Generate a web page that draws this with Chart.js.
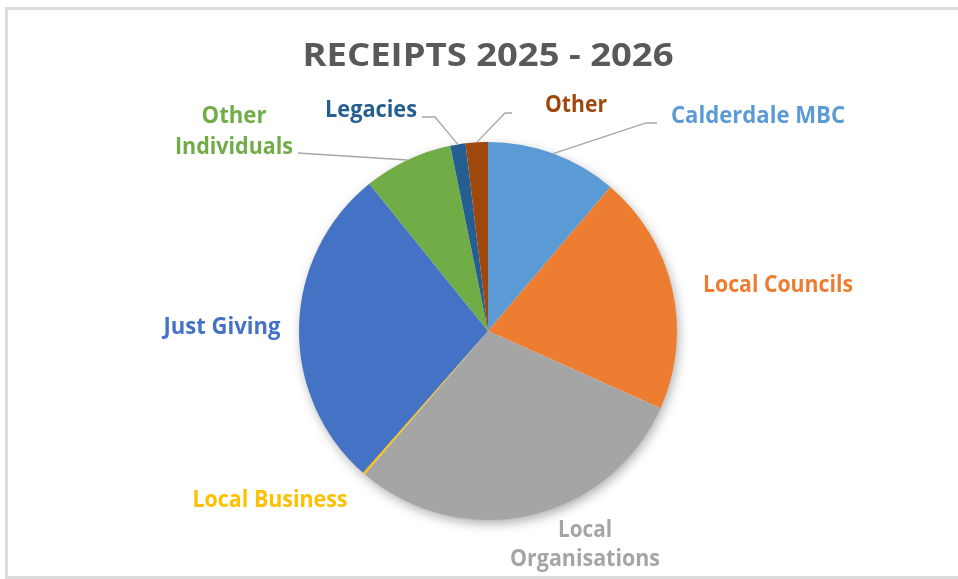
<!DOCTYPE html>
<html>
<head>
<meta charset="utf-8">
<script src="https://cdn.jsdelivr.net/npm/chart.js@4.4.1/dist/chart.umd.min.js"></script>
<style>
  html, body { margin: 0; padding: 0; background: #ffffff; }
  #wrap { position: relative; width: 958px; height: 579px; overflow: hidden; }
  #frame { position: absolute; left: 5px; top: 7px; width: 980px; height: 566px;
           border: 3px solid #dcdcdc; box-sizing: content-box; pointer-events: none; }
</style>
</head>
<body>
<div id="wrap">
  <canvas id="c"></canvas>
  <div id="frame"></div>
</div>
<script>
// ---- data (percent of total) ----
const chartTitle = 'RECEIPTS 2025 - 2026';
const categories = ['Calderdale MBC', 'Local Councils', 'Local Organisations', 'Local Business',
                    'Just Giving', 'Other Individuals', 'Legacies', 'Other'];
const shares = [11.2, 20.5, 29.6, 0.2, 27.7, 7.6, 1.3, 1.9];
const sliceColors = ['#5B9BD5', '#ED7D31', '#A5A5A5', '#FFC000', '#4472C4', '#70AD47', '#255E91', '#9E480E'];

// ---- label layout (style only) ----
const labelLayout = [
  { lines: ['Calderdale MBC'], x: 758, base: [123], w: [174], leader: [[646, 123], [657, 123]] },
  { lines: ['Local Councils'], x: 778, base: [292], w: [150] },
  { lines: ['Local', 'Organisations'], x: 585, base: [537, 566], w: [54, 150] },
  { lines: ['Local Business'], x: 270, base: [507], w: [155] },
  { lines: ['Just Giving'], x: 222, base: [334], w: [117] },
  { lines: ['Other', 'Individuals'], x: 234, base: [123, 154], w: [65, 118], leader: [[298, 153]] },
  { lines: ['Legacies'], x: 371, base: [117], w: [92], leader: [[435, 117], [422, 117]] },
  { lines: ['Other'], x: 576, base: [112], w: [62], leader: [[505, 113], [512, 113]] }
];

const FONT = '"Open Sans", Lato, sans-serif';

function fitText(ctx, text, cx, baseY, targetW, size, color) {
  ctx.save();
  ctx.font = 'bold ' + size + 'px ' + FONT;
  ctx.fillStyle = color;
  ctx.textAlign = 'center';
  ctx.textBaseline = 'alphabetic';
  const m = ctx.measureText(text).width;
  const s = targetW / m;
  ctx.translate(cx, baseY);
  ctx.scale(s, 1);
  ctx.fillText(text, 0, 0);
  ctx.restore();
}

const shadowPlugin = {
  id: 'pieShadow',
  beforeDatasetsDraw(chart) {
    const arc = chart.getDatasetMeta(0).data[0];
    if (!arc) return;
    const { x, y, outerRadius } = arc.getProps(['x', 'y', 'outerRadius'], true);
    const ctx = chart.ctx;
    ctx.save();
    ctx.shadowColor = 'rgba(0,0,0,0.35)';
    ctx.shadowBlur = 12;
    ctx.shadowOffsetX = 2;
    ctx.shadowOffsetY = 4;
    ctx.beginPath();
    ctx.arc(x, y, outerRadius - 1, 0, Math.PI * 2);
    ctx.fillStyle = '#ffffff';
    ctx.fill();
    ctx.restore();
  }
};

const labelPlugin = {
  id: 'outsideLabels',
  afterDatasetsDraw(chart) {
    const ctx = chart.ctx;
    const meta = chart.getDatasetMeta(0);
    // title
    fitText(ctx, chartTitle, 488, 66, 371, 32, '#595959');
    meta.data.forEach((arc, i) => {
      const L = labelLayout[i];
      const p = arc.getProps(['x', 'y', 'startAngle', 'endAngle', 'outerRadius'], true);
      if (L.leader) {
        const mid = (p.startAngle + p.endAngle) / 2;
        const sx = p.x + Math.cos(mid) * p.outerRadius;
        const sy = p.y + Math.sin(mid) * p.outerRadius;
        ctx.save();
        ctx.strokeStyle = '#a6a6a6';
        ctx.lineWidth = 1.3;
        ctx.beginPath();
        ctx.moveTo(sx, sy);
        L.leader.forEach(pt => ctx.lineTo(pt[0], pt[1]));
        ctx.stroke();
        ctx.restore();
      }
      L.lines.forEach((t, k) => fitText(ctx, t, L.x, L.base[k], L.w[k], 24, sliceColors[i]));
    });
  }
};

new Chart(document.getElementById('c'), {
  type: 'pie',
  data: {
    labels: categories,
    datasets: [{
      data: shares,
      backgroundColor: sliceColors,
      borderWidth: 0,
      hoverOffset: 0
    }]
  },
  options: {
    responsive: true,
    maintainAspectRatio: false,
    animation: false,
    devicePixelRatio: 1,
    layout: { padding: { top: 142, bottom: 59, left: 299, right: 281 } },
    plugins: {
      legend: { display: false },
      title: { display: false },
      tooltip: { enabled: false }
    }
  },
  plugins: [shadowPlugin, labelPlugin]
});
</script>
</body>
</html>
